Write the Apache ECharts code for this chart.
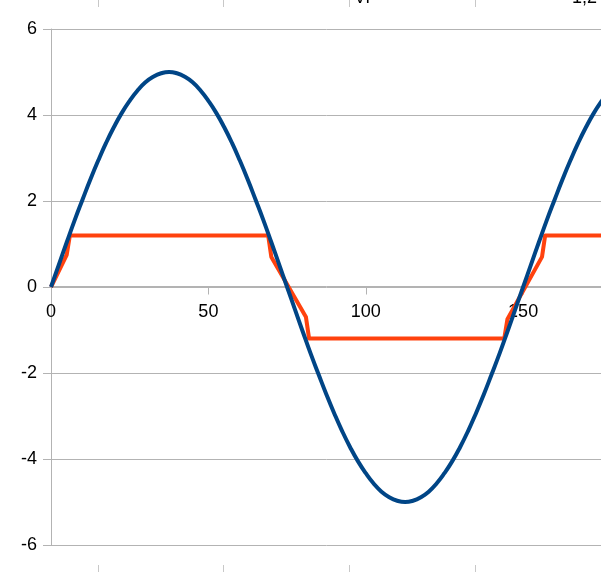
<!DOCTYPE html>
<html>
<head>
<meta charset="utf-8">
<script src="https://cdn.jsdelivr.net/npm/echarts@6/dist/echarts.min.js"></script>
<style>
html,body{margin:0;padding:0;background:#fff;}
#c{width:601px;height:572px;}
</style>
</head>
<body>
<div id="c"></div>
<script>
// Vi (blue) sampled values
const viX = [0,2.5,5,7.5,10,12.5,15,17.5,20,22.5,25,27.5,30,32.5,35,37.5,
  40,42.5,45,47.5,50,52.5,55,57.5,60,62.5,65,67.5,70,72.5,75,
  77.5,80,82.5,85,87.5,90,92.5,95,97.5,100,102.5,105,107.5,110,112.5,
  115,117.5,120,122.5,125,127.5,130,132.5,135,137.5,140,142.5,145,147.5,150,
  152.5,155,157.5,160,162.5,165,167.5,170,172.5,175,177.5,180,182.5,185,187.5,
  190,192.5,195,197.5,200];
const viY = [0,0.52,1.04,1.55,2.03,2.5,2.94,3.35,3.72,4.05,4.33,4.57,4.76,4.89,4.97,5,
  4.97,4.89,4.76,4.57,4.33,4.05,3.72,3.35,2.94,2.5,2.03,1.55,1.04,0.52,0,
  -0.52,-1.04,-1.55,-2.03,-2.5,-2.94,-3.35,-3.72,-4.05,-4.33,-4.57,-4.76,-4.89,-4.97,-5,
  -4.97,-4.89,-4.76,-4.57,-4.33,-4.05,-3.72,-3.35,-2.94,-2.5,-2.03,-1.55,-1.04,-0.52,0,
  0.52,1.04,1.55,2.03,2.5,2.94,3.35,3.72,4.05,4.33,4.57,4.76,4.89,4.97,5,
  4.97,4.89,4.76,4.57,4.33];
// Vo (orange) clipped output
const voX = [0,5,6,69,70,81,82,144,145,156,157,200];
const voY = [0,0.75,1.2,1.2,0.7,-0.7,-1.2,-1.2,-0.75,0.7,1.2,1.2];
// axis ticks
const yTicks = [-6,-4,-2,0,2,4,6];
const xTicks = [0,50,100,150];

const chart = echarts.init(document.getElementById('c'), null, {renderer:'canvas'});
const grey = '#b3b3b3';
const font = '"Liberation Sans", Arial, sans-serif';
const viData = viX.map((x,i)=>[x,viY[i]]);
const voData = voX.map((x,i)=>[x,voY[i]]);

const bgMarks = [];
[98,223,349,475].forEach(x=>{
  bgMarks.push({type:'line',shape:{x1:x+0.5,y1:0,x2:x+0.5,y2:7},style:{stroke:'#c8c8c8',lineWidth:1},silent:true});
  bgMarks.push({type:'line',shape:{x1:x+0.5,y1:565,x2:x+0.5,y2:572},style:{stroke:'#c8c8c8',lineWidth:1},silent:true});
});
bgMarks.push({type:'text',x:354,y:-11,style:{text:'Vi',font:'18px '+font,fill:'#000'},silent:true});
bgMarks.push({type:'text',x:572,y:-11,style:{text:'1,2',font:'18px '+font,fill:'#000'},silent:true});

chart.setOption({
  animation:false,
  backgroundColor:'#fff',
  graphic: bgMarks,
  grid:{left:51,top:29,bottom:27,right:-79.5,containLabel:false,outerBoundsMode:'none'},
  xAxis:{
    type:'value', min:0, max:200, interval:50,
    position:'bottom', offset:-258.5,
    axisLine:{show:true,onZero:false,lineStyle:{color:grey,width:1}},
    axisTick:{show:true,length:8,lineStyle:{color:grey}},
    axisLabel:{
      color:'#000',fontSize:18,fontFamily:font,margin:17,
      formatter:v=> xTicks.indexOf(v)>=0 ? String(v) : ''
    },
    splitLine:{show:false}
  },
  yAxis:{
    type:'value', min:-6, max:6, interval:2,
    axisLine:{show:true,lineStyle:{color:grey,width:1}},
    axisTick:{show:true,length:8,lineStyle:{color:grey}},
    axisLabel:{
      color:'#000',fontSize:18,fontFamily:font,margin:14,
      formatter:v=> yTicks.indexOf(v)>=0 ? String(v) : ''
    },
    splitLine:{show:true,lineStyle:{color:grey,width:1}}
  },
  series:[
    {name:'Vo',type:'line',data:voData,showSymbol:false,smooth:false,
     lineStyle:{color:'#ff420e',width:4,join:'round'},z:2},
    {name:'Vi',type:'line',data:viData,showSymbol:false,smooth:true,
     lineStyle:{color:'#004586',width:4},z:3}
  ]
});
</script>
</body>
</html>
